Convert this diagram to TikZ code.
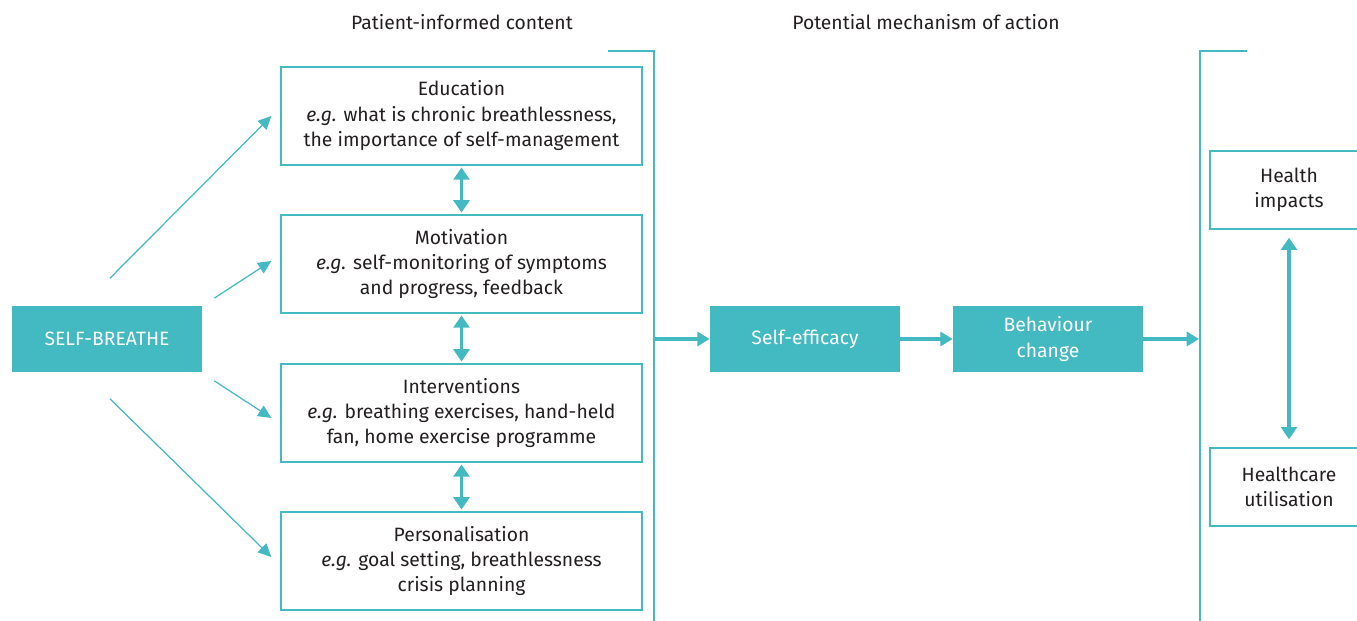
\documentclass[tikz,border=0pt]{standalone}
\usepackage{fontspec}
\setmainfont{Fira Sans}
\usetikzlibrary{arrows.meta,positioning}
\definecolor{tealcolor}{RGB}{67,185,193}
\definecolor{textcolor}{RGB}{35,31,32}

\begin{document}
\begin{tikzpicture}[
    x=0.02cm, y=-0.02cm,
    font=\fontsize{11}{14.5}\selectfont,
    text=textcolor,
    fillblock/.style={rectangle, fill=tealcolor, text=white, minimum width=3.8cm, minimum height=1.34cm, align=center, inner sep=0pt},
    contentblock/.style={rectangle, draw=tealcolor, line width=0.8pt, minimum width=7.22cm, minimum height=1.96cm, align=center, inner sep=0pt},
    outcomeblock/.style={rectangle, draw=tealcolor, line width=0.8pt, minimum width=3.16cm, minimum height=1.56cm, align=center, inner sep=0pt},
    thinarrow/.style={-{Triangle[length=7.5pt,width=7pt]}, tealcolor, line width=0.7pt},
    thickarrow/.style={-{Triangle[length=7pt,width=8pt]}, tealcolor, line width=2.3pt},
    dblarrow/.style={{Triangle[length=7pt,width=9pt]}-{Triangle[length=7pt,width=9pt]}, tealcolor, line width=2.2pt},
    bracket/.style={tealcolor, line width=0.8pt},
    title/.style={font=\fontsize{11}{14.5}\selectfont}
]
\useasboundingbox (0,0) rectangle (1357,621);

% Titles
\node[title] (title_content) at (462,22) {Patient-informed content};
\node[title] (title_mech) at (926,22) {Potential mechanism of action};

% Programme
\node[fillblock] (sb) at (107,339) {SELF-BREATHE};

% Patient-informed content
\node[contentblock] (edu) at (461.5,116) {Education\\\emph{e.g.} what is chronic breathlessness,\\the importance of self-management};
\node[contentblock] (mot) at (461.5,264) {Motivation\\\emph{e.g.} self-monitoring of symptoms\\and progress, feedback};
\node[contentblock] (intv) at (461.5,413) {Interventions\\\emph{e.g.} breathing exercises, hand-held\\fan, home exercise programme};
\node[contentblock] (pers) at (461.5,561) {Personalisation\\\emph{e.g.} goal setting, breathlessness\\crisis planning};

% Mechanism
\node[fillblock] (se) at (805,339) {Self-efficacy};
\node[fillblock] (bc) at (1048,339) {Behaviour\\change};

% Outcomes
\node[outcomeblock] (hi) at (1289,190) {Health\\impacts};
\node[outcomeblock] (hu) at (1289,487) {Healthcare\\utilisation};

% Brackets
\draw[bracket] (608,51) -- (654,51) -- (654,621);
\draw[bracket] (1247,51) -- (1200,51) -- (1200,621);
\coordinate (lbr) at (655,339);
\coordinate (rbr) at (1199,339);

% Arrows from SELF-BREATHE
\draw[thinarrow] ([shift={(3,-27)}]sb.north) -- ([xshift=-0.18cm]edu.west);
\draw[thinarrow] ([shift={(12,-7)}]sb.north east) -- ([shift={(-9,-3)}]mot.west);
\draw[thinarrow] ([shift={(12,8)}]sb.south east) -- ([shift={(-9,5)}]intv.west);
\draw[thinarrow] ([shift={(3,26)}]sb.south) -- ([shift={(-9,-4)}]pers.west);

% Links between content
\draw[dblarrow, shorten <=1pt, shorten >=1pt] (edu) -- (mot);
\draw[dblarrow, shorten <=1pt, shorten >=1pt] (mot) -- (intv);
\draw[dblarrow, shorten <=1pt, shorten >=1pt] (intv) -- (pers);

% Mechanism flow
\draw[thickarrow] (lbr) -- (se);
\draw[thickarrow] (se) -- (bc);
\draw[thickarrow] (bc) -- (rbr);

% Outcomes link
\draw[dblarrow, shorten <=0.16cm, shorten >=0.16cm] (hi) -- (hu);

\end{tikzpicture}
\end{document}
